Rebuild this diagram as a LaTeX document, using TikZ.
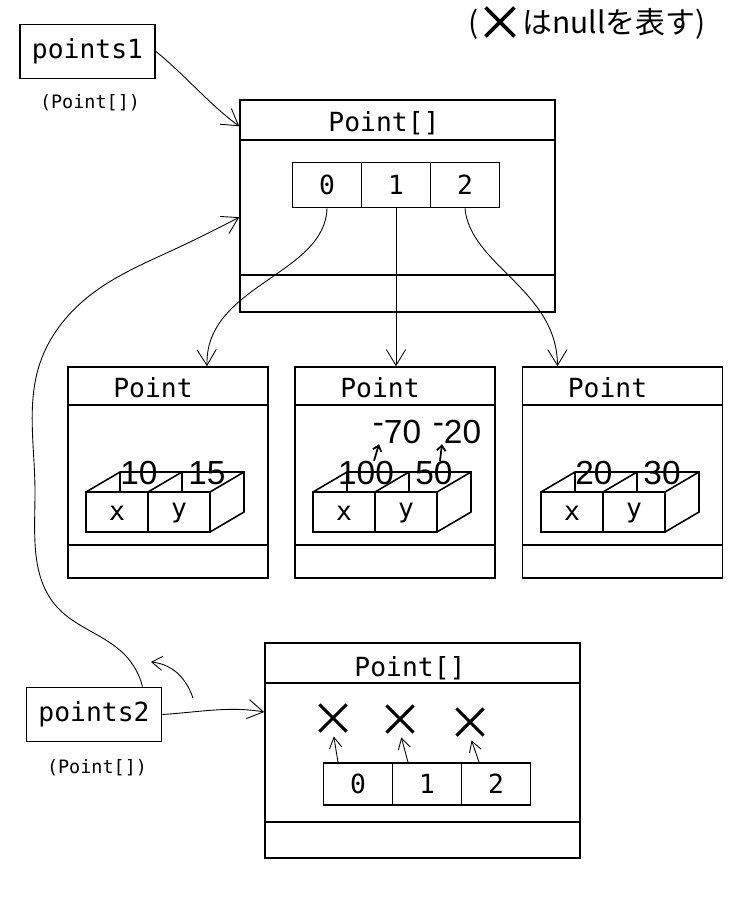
\documentclass[tikz,border=0pt]{standalone}
\usepackage{fontspec}
\setmonofont{DejaVu Sans Mono}
\newfontfamily\valfont{Liberation Sans}
\newfontfamily\jpfont{Noto Sans CJK JP}
\usetikzlibrary{arrows.meta,shapes.misc,hobby}
\tikzset{
  objbox/.style={draw, line width=0.9pt, inner sep=0pt},
  varbox/.style={draw, line width=1.1pt, minimum width=27mm, minimum height=10.8mm, inner sep=0pt, font=\ttfamily\fontsize{15}{15}\selectfont},
  cellbox/.style={draw, line width=0.9pt, minimum width=13.8mm, minimum height=9mm, inner sep=0pt, font=\ttfamily\fontsize{15}{15}\selectfont},
  boxtitle/.style={inner sep=0pt, font=\ttfamily\fontsize{15}{15}\selectfont},
  typelabel/.style={inner sep=0pt, font=\ttfamily\fontsize{10.5}{10.5}\selectfont},
  val/.style={inner sep=0pt, font=\valfont\fontsize{19}{19}\selectfont},
  keytext/.style={inner sep=0pt, font=\jpfont\fontsize{17}{17}\selectfont},
  divider/.style={line width=1.3pt},
  ref/.style={-{Straight Barb[length=9pt,width=11pt]}, line width=0.5pt},
  nullref/.style={-{Straight Barb[length=6pt,width=7pt]}, line width=0.5pt, shorten >=1mm},
  smallref/.style={-{Straight Barb[length=3pt,width=5pt]}, line width=1pt},
  nullmark/.style={draw, cross out, minimum size=4.8mm, inner sep=0pt, line width=1.8pt}
}

\begin{document}
\begin{tikzpicture}[x=0.2mm, y=-0.2mm]
  \fill[white] (0,0) rectangle (750,900);
  \useasboundingbox (0,0) rectangle (750,900);

  % legend
  \node[keytext, anchor=east] (keyl) at (479,24) {(};
  \node[nullmark, line width=2.2pt, minimum size=5mm] (key) at (500,22) {};
  \node[keytext, anchor=west] (keyr) at (522,24) {はnullを表す)};

  % variables
  \node[varbox] (var1) at (87.5,51.5) {points1};
  \node[typelabel] (type1) at (90,103) {(Point[])};
  \node[varbox] (var2) at (94,714.5) {points2};
  \node[typelabel] (type2) at (97,768) {(Point[])};

  % array of points1
  \node[objbox, minimum width=63mm, minimum height=42.4mm] (arr1) at (397.5,206) {};
  \draw[divider] (arr1.west |- 0,140) -- (arr1.east |- 0,140);
  \draw[divider] (arr1.west |- 0,275) -- (arr1.east |- 0,275);
  \node[boxtitle] (arr1t) at (384,123) {Point[]};
  \node[cellbox] (a0) at (327,185) {0};
  \node[cellbox] (a1) at (396,185) {1};
  \node[cellbox] (a2) at (465,185) {2};

  % Point objects
  \foreach \n/\cx/\fx/\va/\vb in {1/168/86/10/15, 2/395/313/100/50, 3/622.5/541/20/30}{
    \node[objbox, minimum width=40mm, minimum height=42.2mm] (pt\n) at (\cx,472.5) {};
    \draw[divider] (pt\n.west |- 0,405) -- (pt\n.east |- 0,405);
    \draw[divider] (pt\n.west |- 0,545) -- (pt\n.east |- 0,545);
    \node[boxtitle] (ttl\n) at ({\cx-15},388) {Point};
    \node[val] (xo\n) at ({\fx+53},473) {\va};
    \node[val] (yo\n) at ({\fx+121},473) {\vb};
    \draw[line width=0.9pt] (\fx,492) rectangle ({\fx+124},532)
      ({\fx+62},492) -- ({\fx+62},532)
      (\fx,492) -- ({\fx+34},472) -- ({\fx+158},472) -- ({\fx+158},512) -- ({\fx+124},532)
      ({\fx+124},492) -- ({\fx+158},472)
      ({\fx+62},492) -- ({\fx+96},472)
      ({\fx+34},472) -- ({\fx+34},492)
      ({\fx+96},472) -- ({\fx+96},492);
    \node[boxtitle] (px\n) at ({\fx+31},513) {x};
    \node[boxtitle] (py\n) at ({\fx+93},513) {y};
  }
  \node[val] (xn2) at (397,432) {\raisebox{.3em}{-}70};
  \node[val] (yn2) at (457,432) {\raisebox{.3em}{-}20};
  \draw[smallref] ([xshift=1.6mm]xo2.north) -- ([xshift=-3.6mm]xn2.south);
  \draw[smallref] ([xshift=1.2mm]yo2.north) -- ([xshift=-3mm]yn2.south);

  % array of points2
  \node[objbox, minimum width=63mm, minimum height=43mm] (arr2) at (422.5,750.5) {};
  \draw[divider] (arr2.west |- 0,683) -- (arr2.east |- 0,683);
  \draw[divider] (arr2.west |- 0,822) -- (arr2.east |- 0,822);
  \node[boxtitle] (arr2t) at (410,668) {Point[]};
  \node[cellbox, minimum height=8.4mm] (b0) at (358,784) {0};
  \node[cellbox, minimum height=8.4mm] (b1) at (427,784) {1};
  \node[cellbox, minimum height=8.4mm] (b2) at (496,784) {2};
  \node[nullmark] (n0) at (333,718) {};
  \node[nullmark] (n1) at (400,719) {};
  \node[nullmark] (n2) at (470,722) {};
  \foreach \i/\s in {0/4,1/3.8,2/3.4}
    \draw[nullref] ([xshift=-\s mm]b\i.north) -- (n\i.south);

  % references
  \draw[ref] (var1.east) .. controls (185,75) and (210,105) .. ([yshift=-5.4mm]arr1.north west);
  \draw[ref] (a0.south) .. controls (325,275) and (205,285) .. ([xshift=7.8mm]pt1.north);
  \draw[ref] (a1.south) -- (a1.south |- pt2.north);
  \draw[ref] (a2.south) .. controls (470,265) and (557,290) .. ([xshift=-13mm]pt3.north);
  \draw[ref] (var2.east) .. controls (200,712) and (230,706) .. ([yshift=7.7mm]arr2.west);
  \draw[ref] ([xshift=-4mm]var2.north east) to[curve through={(125,655) (57,607) (35,490) (40,363) (93,293) (173,250)}] ([yshift=-23.6mm]arr1.north west);
  \coordinate (swing) at (193,698);
  \draw[ref, -{Straight Barb[length=6pt,width=8pt]}] (swing) .. controls (185,675) and (170,664) .. (151,662);
\end{tikzpicture}
\end{document}
